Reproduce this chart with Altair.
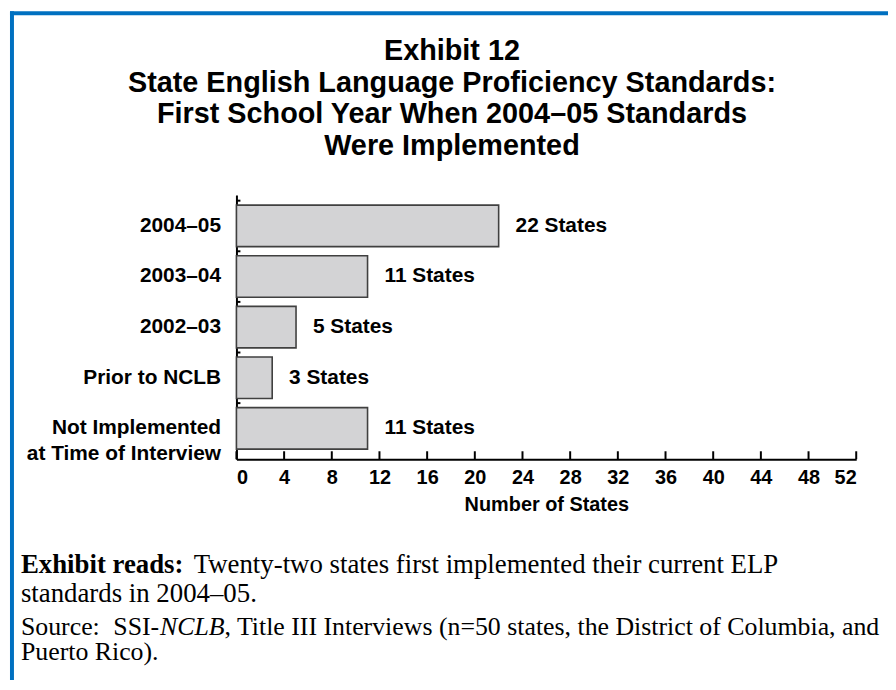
import altair as alt
import pandas as pd

categories = ["2004–05", "2003–04", "2002–03", "Prior to NCLB",
              "Not Implemented\nat Time of Interview"]
counts = [22, 11, 5, 3, 11]
bar_labels = ["22 States", "11 States", "5 States", "3 States", "11 States"]
x_ticks = [0, 4, 8, 12, 16, 20, 24, 28, 32, 36, 40, 44, 48, 52]

title_lines = ["Exhibit 12",
               "State English Language Proficiency Standards:",
               "First School Year When 2004–05 Standards",
               "Were Implemented"]
reads_bold = "Exhibit reads:"
reads_line1 = "Twenty-two states first implemented their current ELP"
reads_line2 = "standards in 2004–05."
src_a = "Source:"
src_b = "SSI-"
src_c = "NCLB"
src_d = ", Title III Interviews (n=50 states, the District of Columbia, and"
src_line2 = "Puerto Rico)."

df = pd.DataFrame({"cat": categories, "n": counts, "lab": bar_labels})
tick_df = pd.DataFrame({"t": x_ticks})

W, H = 624, 266
SANS = "Liberation Sans"
SERIF = "Liberation Serif"

yenc = alt.Y("cat:N", sort=categories, title=None,
             scale=alt.Scale(paddingInner=0.18, paddingOuter=0.2),
             axis=alt.Axis(ticks=False, labelPadding=16, labelFontSize=21,
                           labelFont=SANS, labelFontWeight="bold",
                           labelColor="black", labelLineHeight=26,
                           labelLimit=400,
                           labelExpr="split(datum.label, '\\n')",
                           domainColor="black", domainWidth=2))
xenc = alt.X("n:Q", title="Number of States",
             scale=alt.Scale(domain=[0, 52], nice=False),
             axis=alt.Axis(values=x_ticks, ticks=False, grid=False,
                           labelFontSize=20, labelFont=SANS,
                           labelFontWeight="bold", labelColor="black",
                           labelPadding=8, titleFont=SANS, titleFontSize=20,
                           titleFontWeight="bold", titleColor="black",
                           titlePadding=8, domainColor="black",
                           domainWidth=2))

bars = alt.Chart(df).mark_bar(fill="#D3D3D5", stroke="#404040",
                              strokeWidth=1.6).encode(x=xenc, y=yenc)

labels = alt.Chart(df).mark_text(align="left", baseline="middle", dx=17,
                                 font=SANS, fontWeight="bold", fontSize=21,
                                 color="black").encode(
    x="n:Q", y=alt.Y("cat:N", sort=categories), text="lab:N")

xticks = alt.Chart(tick_df).mark_rule(color="black", strokeWidth=2).encode(
    x="t:Q", y=alt.value(H - 8), y2=alt.value(H))

yticks = alt.Chart(df).mark_rule(color="black", strokeWidth=2,
                                 yOffset=-4.5).encode(
    y=alt.Y("cat:N", sort=categories, bandPosition=0),
    x=alt.value(0), x2=alt.value(4))


def txt(s, x, y, font=SERIF, size=26, weight="normal", style="normal",
        align="left", lh=None):
    kw = dict(align=align, baseline="alphabetic", font=font, fontSize=size,
              fontWeight=weight, fontStyle=style, color="black")
    if lh:
        kw["lineHeight"] = lh
    return alt.Chart(df.head(1)).mark_text(**kw).encode(
        x=alt.value(x), y=alt.value(y), text=alt.value(s))


OX, OY = 238, 194  # page position of the plot origin
title = txt(title_lines, 455 - OX, 58 - OY, font=SANS, size=29,
            weight="bold", align="center", lh=32)

fx = 21 - OX
f1 = txt(reads_bold, fx, 575 - OY, weight="bold", size=27)
f2 = txt(reads_line1, fx + 174, 575 - OY, size=27)
f3 = txt(reads_line2, fx, 604 - OY, size=27)
f4 = txt(src_a, fx, 637 - OY)
f4b = txt(src_b, fx + 93, 637 - OY)
f5 = txt(src_c, fx + 140, 637 - OY, style="italic")
f6 = txt(src_d, fx + 205, 637 - OY)
f7 = txt(src_line2, fx, 662 - OY)

border_top = alt.Chart(df.head(1)).mark_rule(color="#0070C0", strokeWidth=4).encode(
    x=alt.value(10 - OX), x2=alt.value(900 - OX),
    y=alt.value(11 - OY))
border_left = alt.Chart(df.head(1)).mark_rule(color="#0070C0", strokeWidth=4).encode(
    x=alt.value(12 - OX), y=alt.value(9 - OY), y2=alt.value(700 - OY))

chart = alt.layer(bars, labels, xticks, yticks, title, f1, f2, f3, f4, f4b,
                  f5, f6, f7, border_top, border_left).properties(
    width=W, height=H,
    background="white",
    autosize=alt.AutoSizeParams(type="none"),
    padding={"left": OX - 8, "top": OY - 8, "right": 32, "bottom": 220},
).configure_view(strokeWidth=0, stroke="transparent")

chart.save("out.html", embed_options={"renderer": "svg", "actions": False})
